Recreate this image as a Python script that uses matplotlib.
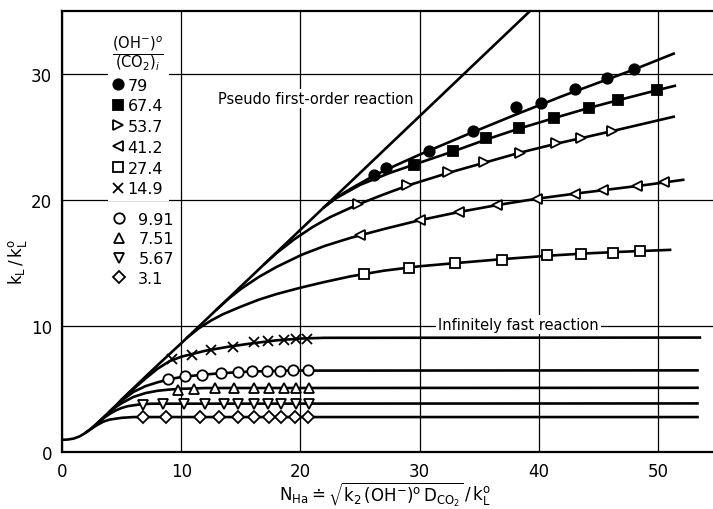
import matplotlib.pyplot as plt

# ratio labels (OH-)0/(CO2)i
ratios = ['79', '67.4', '53.7', '41.2', '27.4', '14.9', '9.91', '7.51', '5.67', '3.1']

# pseudo first-order line
pseudo_x = [0, 0.5, 1, 1.5, 2, 2.5, 3, 3.5, 4, 4.5, 5, 6, 7, 8, 10, 20, 30, 39.3]
pseudo_y = [1.0, 1.02, 1.1, 1.28, 1.57, 1.93, 2.35, 2.8, 3.25, 3.7, 4.2, 5.1, 6.0, 6.9, 8.65, 17.65, 26.65, 35.02]

# theoretical curves, one per ratio
c79_x = [22, 23, 24.5, 26.2, 28, 30, 34, 38, 42, 46, 48, 51.3]
c79_y = [19.45, 20.2, 21.05, 21.95, 22.75, 23.6, 25.2, 26.75, 28.25, 29.65, 30.35, 31.6]
c674_x = [22, 23, 25, 27.5, 29.5, 32.8, 35.6, 38.3, 41.3, 44.2, 46.6, 49.9, 51.4]
c674_y = [19.45, 20.15, 21.2, 22.15, 22.8, 23.85, 24.8, 25.65, 26.5, 27.3, 27.9, 28.7, 29.05]
c537_x = [17, 18, 19.5, 21, 22.5, 24.7, 27, 29, 32.4, 35.4, 38.4, 41.4, 44, 47, 51.3]
c537_y = [14.95, 15.8, 16.9, 17.85, 18.65, 19.6, 20.45, 21.15, 22.15, 22.95, 23.75, 24.45, 25.0, 25.65, 26.6]
c412_x = [13, 14, 15, 16.5, 18, 20.1, 22, 24.2, 27, 30, 33.3, 36.5, 39.8, 43, 46, 49, 52.1]
c412_y = [11.35, 12.2, 12.95, 13.9, 14.7, 15.66, 16.35, 17.0, 17.7, 18.4, 19.05, 19.6, 20.1, 20.5, 20.85, 21.2, 21.6]
c274_x = [10.5, 11.5, 12.5, 13.5, 15, 16.5, 18, 20, 22, 24.2, 27, 30, 33, 37, 41, 44, 47, 51]
c274_y = [9.1, 9.85, 10.45, 10.95, 11.55, 12.1, 12.55, 13.05, 13.5, 13.95, 14.4, 14.75, 15.0, 15.32, 15.6, 15.77, 15.9, 16.05]
c149_x = [5.5, 6, 7, 8, 9, 10, 12, 14, 16, 18, 20, 22, 53.5]
c149_y = [4.6, 5.03, 5.85, 6.62, 7.22, 7.58, 8.05, 8.38, 8.65, 8.88, 9.02, 9.08, 9.1]
c991_x = [4, 4.5, 5, 6, 7, 8, 9, 10, 11.7, 13.3, 15, 17, 19, 53.3]
c991_y = [3.25, 3.68, 4.1, 4.8, 5.25, 5.55, 5.8, 5.97, 6.15, 6.27, 6.37, 6.44, 6.48, 6.5]
c751_x = [3, 3.5, 4, 4.5, 5, 6, 7, 8, 9, 10, 12, 53.3]
c751_y = [2.35, 2.78, 3.2, 3.58, 3.9, 4.4, 4.7, 4.88, 4.98, 5.04, 5.1, 5.12]
c567_x = [2.5, 3, 3.5, 4, 4.5, 5, 5.5, 6.5, 7.5, 53.3]
c567_y = [1.93, 2.33, 2.72, 3.05, 3.32, 3.52, 3.66, 3.8, 3.86, 3.88]
c31_x = [2, 2.5, 3, 3.5, 4, 5, 6, 53.3]
c31_y = [1.57, 1.9, 2.2, 2.45, 2.6, 2.74, 2.8, 2.8]

# measured points
p79_x = [26.2, 27.2, 30.8, 34.5, 38.1, 40.2, 43.0, 45.7, 48.0]
p79_y = [21.95, 22.5, 23.9, 25.5, 27.4, 27.7, 28.8, 29.7, 30.4]
p674_x = [29.5, 32.8, 35.6, 38.3, 41.3, 44.2, 46.6, 49.9]
p674_y = [22.8, 23.85, 24.9, 25.7, 26.5, 27.3, 27.9, 28.7]
p537_x = [24.8, 28.9, 32.4, 35.4, 38.4, 41.4, 43.5, 46.1]
p537_y = [19.7, 21.2, 22.2, 23.0, 23.75, 24.5, 24.9, 25.5]
p412_x = [25.0, 30.0, 33.3, 36.5, 39.8, 43.0, 45.4, 48.2, 50.5]
p412_y = [17.2, 18.45, 19.05, 19.6, 20.05, 20.5, 20.8, 21.1, 21.4]
p274_x = [25.3, 29.1, 33.0, 36.9, 40.7, 43.5, 46.2, 48.5]
p274_y = [14.17, 14.65, 15.0, 15.28, 15.62, 15.73, 15.84, 15.97]
p149_x = [9.24, 10.9, 12.5, 14.3, 16.1, 17.3, 18.6, 19.6, 20.55]
p149_y = [7.42, 7.74, 8.08, 8.35, 8.75, 8.85, 8.93, 9.0, 9.0]
p991_x = [8.9, 10.3, 11.7, 13.3, 14.8, 15.9, 17.2, 18.3, 19.4, 20.6]
p991_y = [5.78, 6.05, 6.15, 6.29, 6.37, 6.44, 6.47, 6.47, 6.49, 6.49]
p751_x = [9.74, 11.1, 12.8, 14.4, 16.1, 17.4, 18.6, 19.6, 20.7]
p751_y = [4.95, 5.02, 5.08, 5.1, 5.1, 5.1, 5.1, 5.12, 5.12]
p567_x = [6.77, 8.45, 10.2, 12.0, 13.6, 14.8, 16.1, 17.3, 18.4, 19.6, 20.7]
p567_y = [3.77, 3.85, 3.85, 3.85, 3.85, 3.85, 3.85, 3.85, 3.85, 3.85, 3.85]
p31_x = [6.77, 8.73, 11.55, 13.15, 14.75, 16.1, 17.35, 18.4, 19.5, 20.6]
p31_y = [2.8, 2.8, 2.8, 2.8, 2.8, 2.8, 2.8, 2.8, 2.8, 2.8]

curves = [(pseudo_x, pseudo_y), (c79_x, c79_y), (c674_x, c674_y), (c537_x, c537_y),
          (c412_x, c412_y), (c274_x, c274_y), (c149_x, c149_y), (c991_x, c991_y),
          (c751_x, c751_y), (c567_x, c567_y), (c31_x, c31_y)]
points = [(p79_x, p79_y), (p674_x, p674_y), (p537_x, p537_y), (p412_x, p412_y),
          (p274_x, p274_y), (p149_x, p149_y), (p991_x, p991_y), (p751_x, p751_y),
          (p567_x, p567_y), (p31_x, p31_y)]
# marker, size, face colour
styles = [('o', 7.5, 'black'), ('s', 6.5, 'black'), ('>', 7, 'white'), ('<', 7, 'white'),
          ('s', 6.5, 'white'), ('x', 6.5, 'black'), ('o', 7.5, 'white'), ('^', 7, 'white'),
          ('v', 7, 'white'), ('D', 6.5, 'white')]

fig = plt.figure(figsize=(7.13, 5.10), dpi=100)
ax = fig.add_axes([0.087, 0.111, 0.913, 0.866])

for cx, cy in curves:
    ax.plot(cx, cy, color='black', lw=1.9, zorder=2)

handles = []
for (mx, my), (m, ms, fc), lab in zip(points, styles, ratios):
    h, = ax.plot(mx, my, ls='none', marker=m, ms=ms, mfc=fc, mec='black',
                 mew=1.3, zorder=3, label=lab)
    handles.append(h)

ax.set_xlim(0, 54.6)
ax.set_ylim(0, 35)
ax.set_xticks([0, 10, 20, 30, 40, 50])
ax.set_yticks([0, 10, 20, 30])
ax.grid(True, color='black', lw=0.9)
ax.set_axisbelow(True)
ax.tick_params(length=0, labelsize=12, pad=7)
ax.spines['right'].set_visible(False)
for s in ['left', 'bottom', 'top']:
    ax.spines[s].set_linewidth(1.6)

ax.set_ylabel(r'$\mathrm{k_L\,/\,k_L^o}$', fontsize=12)
ax.yaxis.set_label_coords(-0.05, 0.434)
ax.set_xlabel(r'$\mathrm{N_{Ha}} \doteq \sqrt{\mathrm{k_2\,(OH^{-})^o\, D_{CO_2}}}\,/\,\mathrm{k_L^o}$',
              fontsize=12)
ax.xaxis.set_label_coords(0.496, -0.062)

box = dict(facecolor='white', edgecolor='none', pad=1.5)
ax.text(21.3, 28.05, 'Pseudo first-order reaction', fontsize=10.5, ha='center',
        va='center', bbox=box, zorder=4)
ax.text(38.3, 10.15, 'Infinitely fast reaction', fontsize=10.5, ha='center',
        va='center', bbox=box, zorder=4)

# legend in two blocks, the lower one indented like the original
frac = r'$\frac{(\mathrm{OH^{-}})^{o}}{(\mathrm{CO_2})_i}$'
leg1 = ax.legend(handles[:6], ratios[:6], title=frac, loc='upper left',
                 bbox_to_anchor=(0.07, 0.96), framealpha=1, edgecolor='none',
                 fancybox=False, fontsize=11.5, title_fontsize=15, handlelength=0.6,
                 handletextpad=0.3, labelspacing=0.36, borderpad=0.3, borderaxespad=0)
ax.add_artist(leg1)
leg2 = ax.legend(handles[6:], ratios[6:], loc='upper left',
                 bbox_to_anchor=(0.073, 0.556), framealpha=1, edgecolor='none',
                 fancybox=False, fontsize=11.5, handlelength=0.6,
                 handletextpad=0.9, labelspacing=0.3, borderpad=0.3, borderaxespad=0)

fig.savefig('out.png', dpi=100)
